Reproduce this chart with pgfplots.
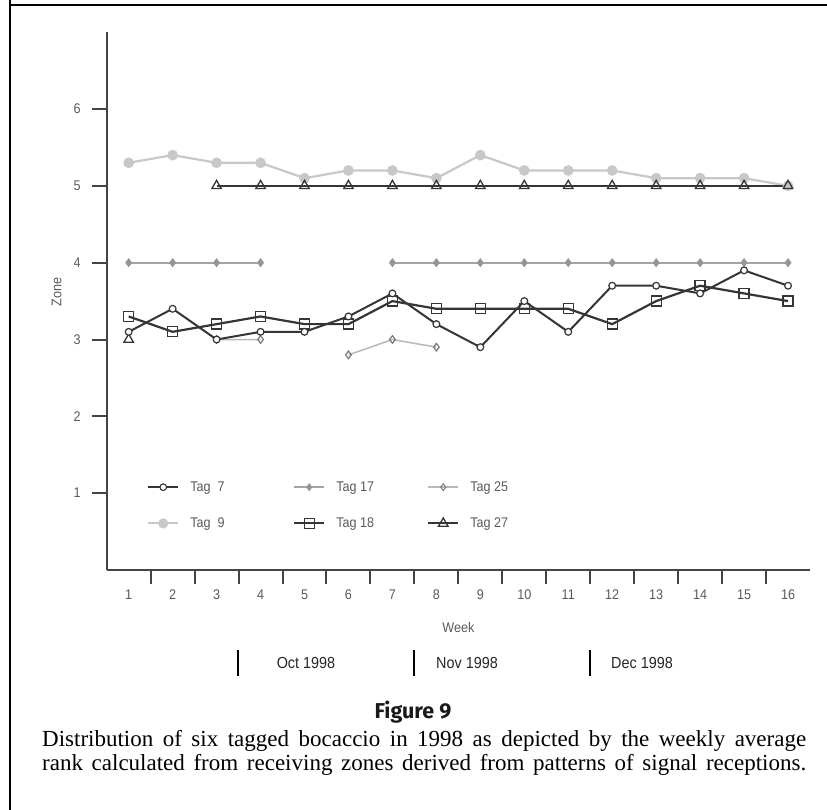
\documentclass[border=0pt]{standalone}
\usepackage{fontspec}
\setmainfont{Liberation Serif}
\newfontfamily\chartfont[FakeStretch=0.9]{Liberation Sans}
\newfontfamily\figfont{Fira Sans}
\usepackage{pgfplots}
\pgfplotsset{compat=1.18}
\definecolor{axc}{HTML}{444444}
\definecolor{lbl}{HTML}{5A5A5A}
\definecolor{dk}{HTML}{353535}
\definecolor{lg}{HTML}{C8C8C8}
\definecolor{mg}{HTML}{A4A4A4}
\definecolor{mgm}{HTML}{959595}
\definecolor{pl}{HTML}{B8B8B8}
\definecolor{plm}{HTML}{7A7A7A}
\begin{document}
\begin{tikzpicture}[x=1pt,y=1pt]
\path[use as bounding box] (0,0) rectangle (827,810);
\draw[line width=2.6pt] (10,811) -- (10,805) -- (828,805);
\draw[line width=2.6pt] (10,805) -- (10,-1);
\begin{axis}[
  at={(106.7pt,240pt)}, anchor=south west,
  scale only axis, width=703.3pt, height=537.8pt,
  xmin=0.5, xmax=16.5, ymin=0, ymax=7,
  axis x line*=bottom, axis y line*=left,
  axis line style={line width=2pt, color=axc},
  tick align=outside, major tick length=14.5pt,
  tick style={line width=2pt, color=axc},
  /pgf/number format/assume math mode=true,
  xtick={1.5,2.5,...,15.5}, xticklabels={},
  extra x ticks={1,...,16},
  extra x tick labels={1,2,3,4,5,6,7,8,9,10,11,12,13,14,15,16},
  extra x tick style={major tick length=0pt, tick style={draw=none},
     xticklabel style={anchor=center, yshift=-25pt}},
  ytick={1,...,6},
  yticklabel style={anchor=center, xshift=-15pt},
  ticklabel style={font=\chartfont\fontsize{14}{16}\selectfont, color=lbl},
  xlabel={Week}, ylabel={Zone},
  xlabel style={at={(axis description cs:0.5,0)}, anchor=center, yshift=-58pt, font=\chartfont\fontsize{14}{16}\selectfont, color=lbl},
  ylabel style={at={(axis description cs:0,0.517)}, anchor=center, yshift=50pt, font=\chartfont\fontsize{14}{16}\selectfont, color=lbl},
  clip=false,
  unbounded coords=jump,
  legend columns=3,
  legend style={draw=none, fill=none, at={(axis cs:1.35,1.18)}, anchor=north west,
     nodes={inner sep=0pt, font=\chartfont\fontsize{14}{16}\selectfont, text=lbl},
     row sep=25pt},
  legend image code/.code={
     \draw[#1] (0pt,0pt) -- (30pt,0pt);
     \draw[#1, only marks] plot coordinates {(15pt,0pt)};
  },
]
% legend images (order: Tag 7, Tag 17, Tag 25, Tag 9, Tag 18, Tag 27)
\addlegendimage{dk, line width=1.8pt, mark=*, mark size=3.3pt, mark options={fill=white, draw=dk, line width=1.1pt}}
\addlegendentry{\hspace*{11pt}\makebox[103pt][l]{Tag\ \ 7}}
\addlegendimage{mg, line width=1.8pt, mark=diamond*, mark size=2.6pt, mark options={fill=mgm, draw=mgm}}
\addlegendentry{\hspace*{11pt}\makebox[91pt][l]{Tag 17}}
\addlegendimage{pl, line width=1.4pt, mark=diamond, mark size=3.4pt, mark options={fill=white, draw=plm, line width=1pt}}
\addlegendentry{\hspace*{11pt}Tag 25}
\addlegendimage{lg, line width=2pt, mark=*, mark size=4pt, mark options={fill=lg, draw=lg}}
\addlegendentry{\hspace*{11pt}\makebox[103pt][l]{Tag\ \ 9}}
\addlegendimage{dk, line width=2pt, mark=square, mark size=5pt, mark options={fill=white, draw=dk, line width=1.3pt}}
\addlegendentry{\hspace*{11pt}\makebox[91pt][l]{Tag 18}}
\addlegendimage{dk, line width=2pt, mark=triangle, mark size=5.5pt, mark options={fill=white, draw=dk, line width=1.3pt}}
\addlegendentry{\hspace*{11pt}Tag 27}

% Tag 9
\addplot[forget plot, lg, line width=2.2pt, mark=*, mark size=4.2pt, mark options={fill=lg, draw=lg}] coordinates {
(1,5.3) (2,5.4) (3,5.3) (4,5.3) (5,5.1) (6,5.2) (7,5.2) (8,5.1)
(9,5.4) (10,5.2) (11,5.2) (12,5.2) (13,5.1) (14,5.1) (15,5.1) (16,5.0)};
% Tag 17
\addplot[forget plot, mg, line width=2.2pt, mark=diamond*, mark size=2.8pt, mark options={fill=mgm, draw=mgm}] coordinates {
(1,4.0) (2,4.0) (3,4.0) (4,4.0) (5,nan) (7,4.0) (8,4.0) (9,4.0) (10,4.0)
(11,4.0) (12,4.0) (13,4.0) (14,4.0) (15,4.0) (16,4.0)};
% Tag 25
\addplot[forget plot, pl, line width=1.5pt, mark=diamond, mark size=3.8pt, mark options={fill=white, draw=plm, line width=1.2pt}] coordinates {
(3,3.0) (4,3.0) (5,nan) (6,2.8) (7,3.0) (8,2.9)};
% Tag 27
\addplot[forget plot, dk, line width=2.2pt, mark=triangle, mark size=5.5pt, mark options={fill=white, draw=dk, line width=1.3pt}] coordinates {
(1,3.0) (2,nan) (3,5.0) (4,5.0) (5,5.0) (6,5.0) (7,5.0) (8,5.0) (9,5.0)
(10,5.0) (11,5.0) (12,5.0) (13,5.0) (14,5.0) (15,5.0) (16,5.0)};
% Tag 18
\addplot[forget plot, dk, line width=2.2pt, mark=square, mark size=5pt, mark options={fill=white, draw=dk, line width=1.3pt}] coordinates {
(1,3.3) (2,3.1) (3,3.2) (4,3.3) (5,3.2) (6,3.2) (7,3.5) (8,3.4)
(9,3.4) (10,3.4) (11,3.4) (12,3.2) (13,3.5) (14,3.7) (15,3.6) (16,3.5)};
% Tag 7
\addplot[forget plot, dk, line width=2pt, mark=*, mark size=3.4pt, mark options={fill=white, draw=dk, line width=1.2pt}] coordinates {
(1,3.1) (2,3.4) (3,3.0) (4,3.1) (5,3.1) (6,3.3) (7,3.6) (8,3.2)
(9,2.9) (10,3.5) (11,3.1) (12,3.7) (13,3.7) (14,3.6) (15,3.9) (16,3.7)};
\end{axis}
% month markers
\foreach \xx in {238,413.5,590}{\draw[line width=2pt] (\xx,160) -- (\xx,134);}
\node[font=\chartfont\fontsize{16}{18}\selectfont, text=black!85] at (306,147) {Oct 1998};
\node[font=\chartfont\fontsize{16}{18}\selectfont, text=black!85] at (467,147) {Nov 1998};
\node[font=\chartfont\fontsize{16}{18}\selectfont, text=black!85] at (642,147) {Dec 1998};
% caption
\node[font=\figfont\bfseries\fontsize{21.5}{25}\selectfont, text=black!90] at (413,98) {Figure 9};
\node[anchor=north west, inner sep=0pt, font=\fontsize{23}{24.5}\selectfont, align=left] at (42,80) {%
\makebox[764pt][s]{Distribution of six tagged bocaccio in 1998 as depicted by the weekly average}\\
\makebox[764pt][s]{rank calculated from receiving zones derived from patterns of signal receptions.}};
\end{tikzpicture}
\end{document}
